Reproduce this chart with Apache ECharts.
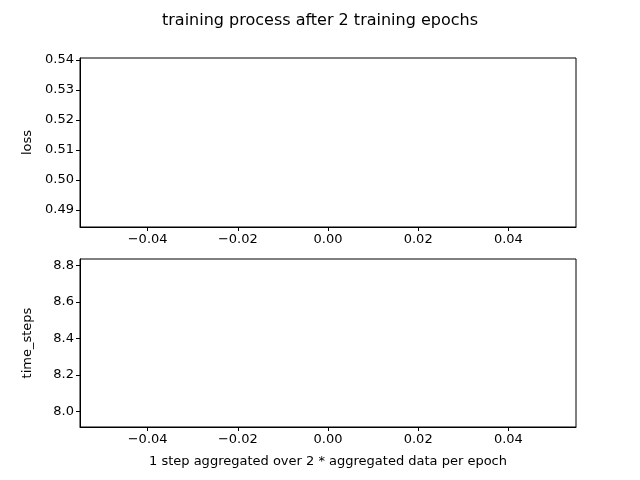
<!DOCTYPE html>
<html><head><meta charset="utf-8">
<script src="https://cdn.jsdelivr.net/npm/echarts@6/dist/echarts.min.js"></script>
<style>html,body{margin:0;padding:0;background:#fff}#c{width:640px;height:480px}</style>
</head><body><div id="c"></div>
<script>
const xTicks=[-0.04,-0.02,0,0.02,0.04];
const lossTicks=[0.49,0.50,0.51,0.52,0.53,0.54];
const stepTicks=[8.0,8.2,8.4,8.6,8.8];
const lossData=[[0,0.5125]];
const stepData=[[0,8.375]];
const F='DejaVu Sans';
const minus=s=>s.replace('-','\u2212');
function xAxis(i){return {gridIndex:i,type:'value',min:-0.055,max:0.055,
 axisLine:{onZero:false,lineStyle:{color:'#000'}},splitLine:{show:false},
 axisTick:{show:true,inside:false,customValues:xTicks,length:4,lineStyle:{color:'#000'}},
 axisLabel:{customValues:xTicks,color:'#000',fontFamily:F,fontSize:13,margin:6,formatter:v=>minus(v.toFixed(2))},
 name:i==1?'1 step aggregated over 2 * aggregated data per epoch':'',nameLocation:'middle',nameGap:28,
 nameTextStyle:{color:'#000',fontFamily:F,fontSize:13}};}
function yAxis(i,min,max,ticks,d,name){return {gridIndex:i,type:'value',min:min,max:max,
 axisLine:{show:true,onZero:false,lineStyle:{color:'#000'}},splitLine:{show:false},
 axisTick:{show:true,inside:false,customValues:ticks,length:4,lineStyle:{color:'#000'}},
 axisLabel:{customValues:ticks,color:'#000',fontFamily:F,fontSize:13,margin:6,formatter:v=>v.toFixed(d)},
 name:name,nameLocation:'middle',nameGap:46,nameTextStyle:{color:'#000',fontFamily:F,fontSize:13}};}
const ch=echarts.init(document.getElementById('c'));
ch.setOption({animation:false,
 title:{text:'training process after 2 training epochs',left:'center',top:8,textStyle:{fontFamily:F,fontSize:16,fontWeight:'normal',color:'#000'}},
 grid:[{left:80,right:64,top:58,height:169,show:true,borderColor:'#000',borderWidth:1},
       {left:80,right:64,top:259,height:168,show:true,borderColor:'#000',borderWidth:1}],
 xAxis:[xAxis(0),xAxis(1)],
 yAxis:[yAxis(0,0.4843,0.5407,lossTicks,2,'loss'),yAxis(1,7.915,8.836,stepTicks,1,'time_steps')],
 series:[{type:'line',xAxisIndex:0,yAxisIndex:0,data:lossData,showSymbol:false,lineStyle:{color:'#1f77b4'}},
         {type:'line',xAxisIndex:1,yAxisIndex:1,data:stepData,showSymbol:false,lineStyle:{color:'#1f77b4'}}]
});
</script></body></html>
